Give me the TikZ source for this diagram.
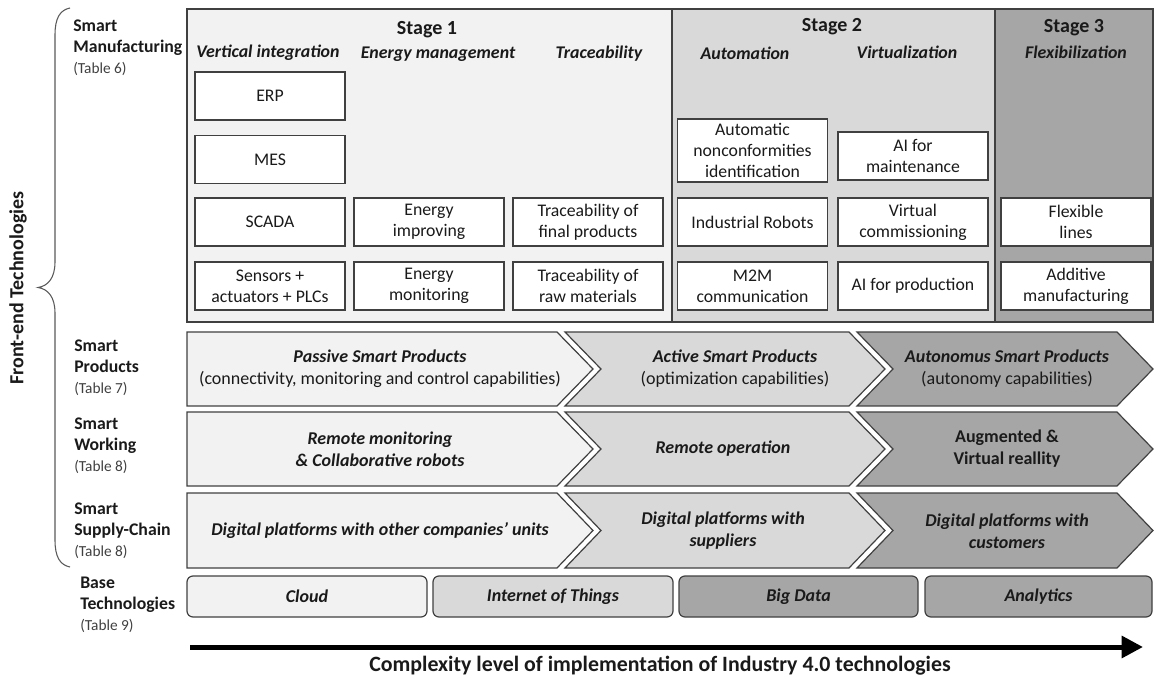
\documentclass[tikz,border=0pt]{standalone}
\usepackage{fontspec}
\setmainfont{Carlito}
\usetikzlibrary{arrows.meta}

\definecolor{lightfill}{HTML}{F2F2F2}
\definecolor{midfill}{HTML}{D9D9D9}
\definecolor{darkfill}{HTML}{A6A6A6}
\definecolor{edge}{HTML}{404040}
\definecolor{ink}{HTML}{1A1A1A}
\definecolor{braceink}{HTML}{595959}

\tikzset{
  txt/.style={font=\fontsize{13.5}{16.5}\selectfont, text=ink, align=center, inner sep=0pt},
  stagepanel/.style={draw=edge, line width=0.8pt},
  stagetitle/.style={font=\bfseries\fontsize{15}{18}\selectfont, text=ink, inner sep=0pt},
  subtitle/.style={font=\bfseries\itshape\fontsize{13.4}{16}\selectfont, text=ink, inner sep=0pt},
  itembox/.style={draw=edge, line width=0.9pt, fill=white, minimum width=112.5pt,
    minimum height=36pt, align=center, inner sep=1pt, text=ink,
    font=\fontsize{13.3}{15.75}\selectfont},
  chevron/.style={draw=edge, line width=0.9pt},
  chevtext/.style={txt, font=\bfseries\itshape\fontsize{13.5}{16.5}\selectfont},
  basebox/.style={draw=edge, line width=0.9pt, rounded corners=4.5pt, minimum height=30.75pt,
    inner sep=0pt, text=ink, font=\bfseries\itshape\fontsize{13.5}{16}\selectfont},
  sidelabel/.style={anchor=west, align=left, inner sep=0pt, text=ink,
    font=\bfseries\fontsize{13.3}{15.75}\selectfont},
}
\newcommand\tabref[1]{{\fontsize{11.5}{15}\selectfont\mdseries\color{edge}#1}}

\begin{document}
\begin{tikzpicture}[x=0.75pt,y=-0.75pt]
\useasboundingbox (0,0) rectangle (1154,677);

% ---------- stage panels ----------
\draw[stagepanel, fill=lightfill] (187,9) rectangle (672,322);
\draw[stagepanel, fill=midfill]   (672,9) rectangle (995,322);
\draw[stagepanel, fill=darkfill]  (995,9) rectangle (1153,322);

\node[stagetitle] (st1) at (427,30) {Stage 1};
\node[stagetitle] (st2) at (832,27) {Stage 2};
\node[stagetitle] (st3) at (1074,28) {Stage 3};

\node[subtitle] (vi)  at (268,53) {Vertical integration};
\node[subtitle] (em)  at (438,54) {Energy management};
\node[subtitle] (tr)  at (599,54) {Traceability};
\node[subtitle] (au)  at (745,53) {Automation};
\node[subtitle] (vz)  at (907,52) {Virtualization};
\node[subtitle] (fx)  at (1076,52) {Flexibilization};

% ---------- stage 1 items ----------
\node[itembox] (erp)  at (270,96)    {ERP};
\node[itembox] (mes)  at (270,159.5) {MES};
\node[itembox] (scada) at (270,222)  {SCADA};
\node[itembox] (sens) at (270,286)   {Sensors +\\actuators + PLCs};
\node[itembox] (eimp) at (429,222)   {Energy\\improving};
\node[itembox] (emon) at (429,286)   {Energy\\monitoring};
\node[itembox] (tfin) at (588,222)   {Traceability of\\final products};
\node[itembox] (traw) at (588,286)   {Traceability of\\raw materials};

% ---------- stage 2 items ----------
\node[itembox, minimum height=47.25pt] (anc) at (752.5,150.5) {Automatic\\nonconformities\\identification};
\node[itembox] (irob) at (752.5,222) {Industrial Robots};
\node[itembox] (m2m)  at (752.5,286) {M2M\\communication};
\node[itembox] (aim)  at (913,156)   {AI for\\maintenance};
\node[itembox] (vcom) at (913,222)   {Virtual\\commissioning};
\node[itembox] (aip)  at (913,286)   {AI for production};

% ---------- stage 3 items ----------
\node[itembox] (flex) at (1076,222) {Flexible\\lines};
\node[itembox] (addm) at (1076,286) {Additive\\manufacturing};

% ---------- chevron rows ----------
% row 1: smart products
\draw[chevron, fill=lightfill] (187,332) -- (557,332) -- (593,369) -- (557,406) -- (187,406) -- cycle;
\draw[chevron, fill=midfill]   (565,332) -- (849,332) -- (885,369) -- (849,406) -- (565,406) -- (601,369) -- cycle;
\draw[chevron, fill=darkfill]  (857,332) -- (1117,332) -- (1153,369) -- (1117,406) -- (857,406) -- (893,369) -- cycle;
\node[txt] (psp) at (380,369) {\textbf{\textit{Passive Smart Products}}\\(connectivity, monitoring and control capabilities)};
\node[txt] (asp) at (735,369) {\textbf{\textit{Active Smart Products}}\\(optimization capabilities)};
\node[txt] (usp) at (1007,369) {\textbf{\textit{Autonomus Smart Products}}\\(autonomy capabilities)};

% row 2: smart working
\draw[chevron, fill=lightfill] (187,412) -- (557,412) -- (593,449) -- (557,486) -- (187,486) -- cycle;
\draw[chevron, fill=midfill]   (565,412) -- (849,412) -- (885,449) -- (849,486) -- (565,486) -- (601,449) -- cycle;
\draw[chevron, fill=darkfill]  (857,412) -- (1117,412) -- (1153,449) -- (1117,486) -- (857,486) -- (893,449) -- cycle;
\node[chevtext] (rmon) at (380,449) {Remote monitoring\\\& Collaborative robots};
\node[chevtext] (rop)  at (723,449) {Remote operation};
\node[txt, font=\bfseries\fontsize{13.5}{16.5}\selectfont] (avr) at (1007,449) {Augmented \&\\Virtual reallity};

% row 3: smart supply-chain
\draw[chevron, fill=lightfill] (187,493) -- (557,493) -- (593,530.5) -- (557,568) -- (187,568) -- cycle;
\draw[chevron, fill=midfill]   (565,493) -- (849,493) -- (885,530.5) -- (849,568) -- (565,568) -- (601,530.5) -- cycle;
\draw[chevron, fill=darkfill]  (857,493) -- (1117,493) -- (1153,530.5) -- (1117,568) -- (857,568) -- (893,530.5) -- cycle;
\node[chevtext] (dpo) at (380,531) {Digital platforms with other companies’ units};
\node[chevtext] (dps) at (723,531) {Digital platforms with\\suppliers};
\node[chevtext] (dpc) at (1007,531) {Digital platforms with\\customers};

% ---------- base technologies ----------
\node[basebox, fill=lightfill, minimum width=180pt]    (cloud) at (307,596.5)   {Cloud};
\node[basebox, fill=midfill,   minimum width=180pt]    (iot)   at (553,596.5)   {Internet of Things};
\node[basebox, fill=darkfill,  minimum width=179.25pt] (bigd)  at (798.5,596.5) {Big Data};
\node[basebox, fill=darkfill,  minimum width=170.25pt] (anal)  at (1038.5,596.5) {Analytics};

% ---------- left labels ----------
\node[sidelabel] (lsm) at (73,48)  {Smart\\Manufacturing\\\tabref{(Table 6)}};
\node[sidelabel] (lsp) at (74,368) {Smart\\Products\\\tabref{(Table 7)}};
\node[sidelabel] (lsw) at (74,446) {Smart\\Working\\\tabref{(Table 8)}};
\node[sidelabel] (lsc) at (74,531) {Smart\\Supply-Chain\\\tabref{(Table 8)}};
\node[sidelabel] (lbt) at (80,605) {Base\\Technologies\\\tabref{(Table 9)}};

% front-end brace
\draw[braceink, line width=0.8pt]
  (70,8) .. controls (60,10) and (55,18) .. (55,35)
  -- (55,262) .. controls (55,278) and (48,286) .. (38,287.5)
  .. controls (48,289) and (55,297) .. (55,313)
  -- (55,540) .. controls (55,557) and (60,565) .. (70,567);
\node[rotate=90, font=\bfseries\fontsize{15}{18}\selectfont, text=ink, inner sep=0pt] (fet) at (18,288) {Front-end Technologies};

% ---------- complexity axis ----------
\coordinate (axs) at (190,647);
\coordinate (axe) at (1143,647);
\draw[black, line width=3.75pt, -{Triangle[length=16pt,width=16pt]}] (axs) -- (axe);
\node[font=\bfseries\fontsize{16.4}{19}\selectfont, text=ink, inner sep=0pt] (axl) at (660,666)
  {Complexity level of implementation of Industry 4.0 technologies};
\end{tikzpicture}
\end{document}
